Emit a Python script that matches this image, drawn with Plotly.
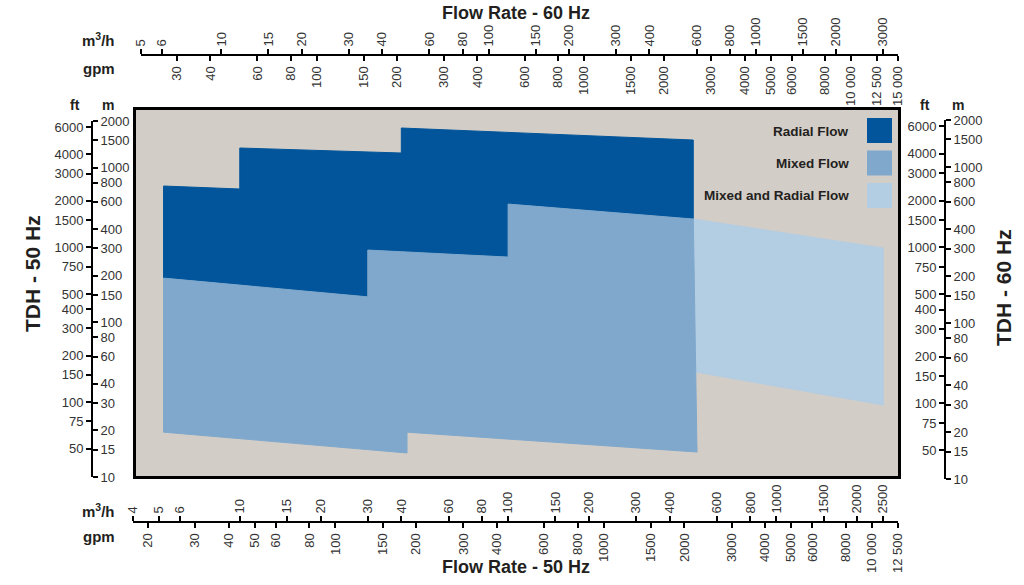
import math
import plotly.graph_objects as go

W, H = 1024, 585
GPM_PER_M3H = 4.402868
M_PER_FT = 0.3048

# ---------------- data (flow in m3/h @ 50 Hz, head in m @ 50 Hz) ----------------
radial_q = [5.2, 10, 10, 40, 40, 490, 490, 100, 100, 30, 30, 5.2]
radial_h = [760, 727, 1338, 1242, 1802, 1507, 465, 581, 264, 293, 146, 193]

mixed_q = [5.2, 30, 30, 100, 100, 490, 506, 42, 42, 5.2]
mixed_h = [193, 146, 293, 264, 581, 465, 14.5, 19.5, 14.3, 19.5]

mixed_radial_q = [490, 2500, 2500, 500]
mixed_radial_h = [465, 302, 29.2, 47.7]

series_names = ["Radial Flow", "Mixed Flow", "Mixed and Radial Flow"]
series_colors = ["#02559a", "#7fa8cc", "#b3cde3"]

# tick labels
bot_m3h_ticks = [4, 5, 6, 10, 15, 20, 30, 40, 60, 80, 100, 150, 200, 300, 400,
                 600, 800, 1000, 1500, 2000, 2500]
bot_gpm_ticks = [20, 30, 40, 50, 60, 80, 100, 150, 200, 300, 400, 600, 800, 1000,
                 1500, 2000, 3000, 4000, 5000, 6000, 8000, 10000, 12500]
top_m3h_ticks = [5, 6, 10, 15, 20, 30, 40, 60, 80, 100, 150, 200, 300, 400, 600,
                 800, 1000, 1500, 2000, 3000]
top_gpm_ticks = [30, 40, 60, 80, 100, 150, 200, 300, 400, 600, 800, 1000, 1500,
                 2000, 3000, 4000, 5000, 6000, 8000, 10000, 12500, 15000]
m_ticks = [10, 15, 20, 30, 40, 60, 80, 100, 150, 200, 300, 400, 600, 800, 1000,
           1500, 2000]
ft_ticks = [50, 75, 100, 150, 200, 300, 400, 500, 750, 1000, 1500, 2000, 3000,
            4000, 6000]


def fmt(v):
    return f"{v:,}".replace(",", " ") if v >= 10000 else str(v)


def fx(px):
    return px / W


def fy(py):
    return 1 - py / H


L10 = math.log10
TICK_FONT = dict(family="Liberation Sans, Arial, sans-serif", size=13, color="#333333")
BOLD = "Liberation Sans, Arial, sans-serif"

fig = go.Figure()

# region polygons
for q, h, name, col in [(radial_q, radial_h, series_names[0], series_colors[0]),
                        (mixed_radial_q, mixed_radial_h, series_names[2], series_colors[2]),
                        (mixed_q, mixed_h, series_names[1], series_colors[1])]:
    fig.add_trace(go.Scatter(x=q + [q[0]], y=h + [h[0]], fill="toself", fillcolor=col,
                             mode="lines", line=dict(color=col, width=1), name=name,
                             hoverinfo="name", showlegend=False))

# invisible carriers so that every scale axis gets drawn
for xa, ya, xs, ys in [("x2", "y", bot_gpm_ticks, m_ticks),
                       ("x", "y2", bot_m3h_ticks, ft_ticks),
                       ("x3", "y3", top_m3h_ticks, m_ticks),
                       ("x4", "y3", top_gpm_ticks, m_ticks),
                       ("x3", "y4", top_m3h_ticks, ft_ticks)]:
    fig.add_trace(go.Scatter(x=[xs[0], xs[-1]], y=[ys[0], ys[-1]], xaxis=xa, yaxis=ya,
                             mode="markers", marker=dict(opacity=0, size=1),
                             hoverinfo="skip", showlegend=False))


def axis(**kw):
    base = dict(type="log", showline=True, linecolor="black", linewidth=2,
                ticks="outside", ticklen=5, tickwidth=1.5, tickcolor="black",
                showgrid=False, zeroline=False, tickfont=TICK_FONT,
                tickmode="array", fixedrange=True, anchor="free", automargin=False)
    base.update(kw)
    return base


# geometry of axis lines (pixels)
BX0, BX1, BY = 133, 898, 522
TX0, TX1, TY = 141, 898, 55
LX, LY0, LY1 = 92, 121, 477
RX, RY0, RY1 = 945, 120, 479

fig.update_layout(
    width=W, height=H, margin=dict(l=0, r=0, t=0, b=0, autoexpand=False),
    paper_bgcolor="white", plot_bgcolor="rgba(0,0,0,0)", showlegend=False,
    xaxis=axis(domain=[fx(BX0), fx(BX1)], range=[L10(4), L10(12500 / GPM_PER_M3H)],
               side="top", position=fy(BY), tickangle=-90,
               tickvals=bot_m3h_ticks, ticktext=[fmt(v) for v in bot_m3h_ticks]),
    xaxis2=axis(overlaying="x", range=[L10(4 * GPM_PER_M3H), L10(12500)],
                side="bottom", position=fy(BY), tickangle=-90,
                tickvals=bot_gpm_ticks, ticktext=[fmt(v) for v in bot_gpm_ticks]),
    xaxis3=axis(domain=[fx(TX0), fx(TX1)], range=[L10(5), L10(15000 / GPM_PER_M3H)],
                side="top", position=fy(TY), tickangle=-90,
                tickvals=top_m3h_ticks, ticktext=[fmt(v) for v in top_m3h_ticks]),
    xaxis4=axis(overlaying="x3", range=[L10(5 * GPM_PER_M3H), L10(15000)],
                side="bottom", position=fy(TY), tickangle=-90,
                tickvals=top_gpm_ticks, ticktext=[fmt(v) for v in top_gpm_ticks]),
    yaxis=axis(domain=[fy(LY1), fy(LY0)], range=[L10(10), L10(2000)],
               side="right", position=fx(LX),
               tickvals=m_ticks, ticktext=[fmt(v) for v in m_ticks]),
    yaxis2=axis(overlaying="y", range=[L10(10 / M_PER_FT), L10(2000 / M_PER_FT)],
                side="left", position=fx(LX),
                tickvals=ft_ticks, ticktext=[fmt(v) for v in ft_ticks]),
    yaxis3=axis(domain=[fy(RY1), fy(RY0)], range=[L10(10), L10(2000)],
                side="right", position=fx(RX),
                tickvals=m_ticks, ticktext=[fmt(v) for v in m_ticks]),
    yaxis4=axis(overlaying="y3", range=[L10(10 / M_PER_FT), L10(2000 / M_PER_FT)],
                side="left", position=fx(RX),
                tickvals=ft_ticks, ticktext=[fmt(v) for v in ft_ticks]),
)

# grey chart frame
fig.add_shape(type="rect", xref="paper", yref="paper",
              x0=fx(134.5), x1=fx(899.5), y0=fy(477.5), y1=fy(108.5),
              fillcolor="#d3cdc7", line=dict(color="black", width=3), layer="below")

# legend swatches + labels
for i, (name, col) in enumerate(zip(series_names, series_colors)):
    top = 118 + i * 32.5
    fig.add_shape(type="rect", xref="paper", yref="paper",
                  x0=fx(867), x1=fx(892), y0=fy(top + 25), y1=fy(top),
                  fillcolor=col, line=dict(width=0), layer="above")
    fig.add_annotation(x=fx(851), y=fy(top + 13), xref="paper", yref="paper",
                       text=f"<b>{name}</b>", showarrow=False, xanchor="right",
                       yanchor="middle", font=dict(family=BOLD, size=13.5, color="#231f20"))


def label(x, y, text, size=15, angle=0, xanchor="center"):
    fig.add_annotation(x=fx(x), y=fy(y), xref="paper", yref="paper", text=f"<b>{text}</b>",
                       showarrow=False, xanchor=xanchor, yanchor="middle",
                       textangle=angle, font=dict(family=BOLD, size=size, color="#231f20"))


label(516, 13, "Flow Rate - 60 Hz", size=18)
label(516, 567, "Flow Rate - 50 Hz", size=18)
label(117, 40, "m<sup>3</sup>/h", xanchor="right")
label(117, 68, "gpm", xanchor="right")
label(117, 510, "m<sup>3</sup>/h", xanchor="right")
label(117, 536, "gpm", xanchor="right")
label(75, 105, "ft", size=14)
label(108, 105, "m", size=14)
label(925, 105, "ft", size=14)
label(958, 105, "m", size=14)
label(32, 274, "TDH - 50 Hz", size=21, angle=-90)
label(1003, 288, "TDH - 60 Hz", size=21, angle=-90)

fig.write_html("out.html", post_script="document.body.style.margin='0';",
               config={"displayModeBar": False})
